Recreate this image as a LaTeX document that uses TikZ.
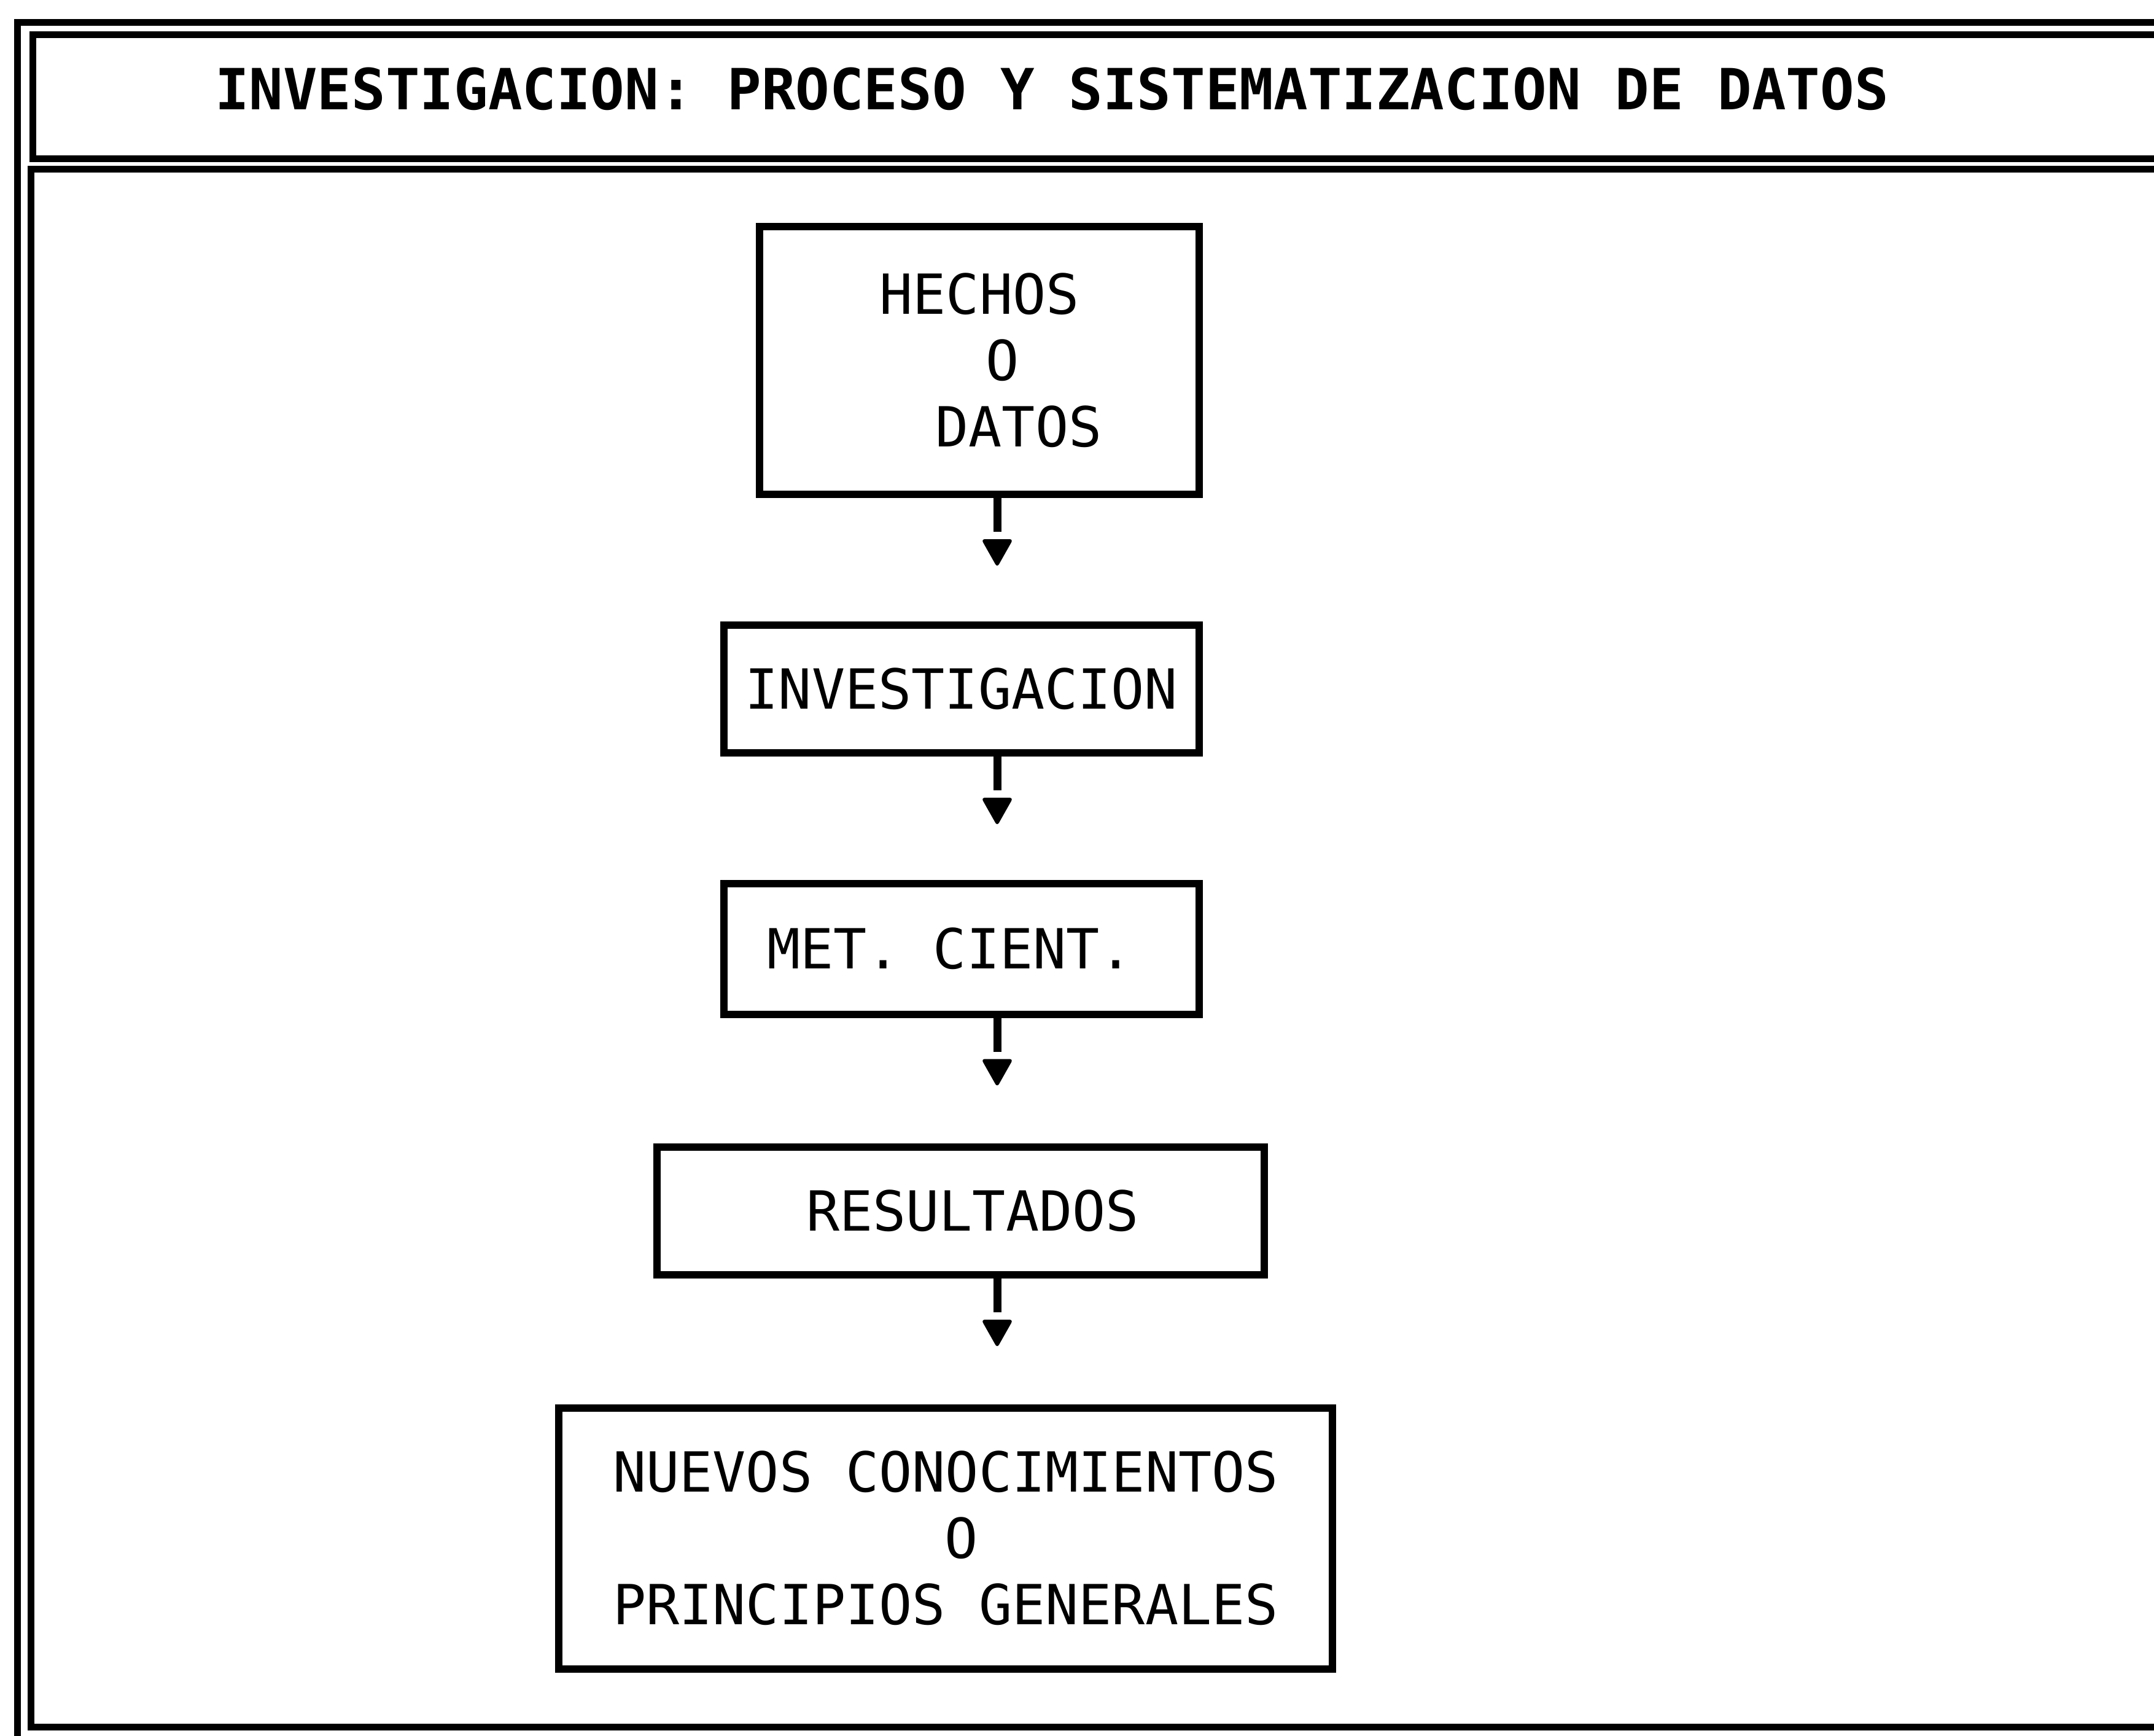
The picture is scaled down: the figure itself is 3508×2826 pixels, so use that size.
\documentclass[tikz,border=0pt]{standalone}
\usepackage{fontspec}
\setmonofont{DejaVu Sans Mono}
\usetikzlibrary{calc}
\begin{document}
\begin{tikzpicture}[x=0.25pt,y=-0.25pt,
  frameline/.style={line width=2.75pt},
  box/.style={draw, line width=3pt, inner sep=0pt, align=center,
    font=\ttfamily\fontsize{22.5pt}{27pt}\selectfont},
  stem/.style={line width=3.25pt},
  tiptri/.style={fill=black, rounded corners=1.5pt},
  titletext/.style={inner sep=0pt, font=\ttfamily\bfseries\fontsize{23.1pt}{27pt}\selectfont}]
\useasboundingbox (0,0) rectangle (3508,2826);
% frame
\draw[frameline] (3540,37) -- (28,37) -- (28,2860);
\draw[frameline] (3540,57) -- (53,57) -- (53,258) -- (3540,258);
\draw[frameline] (3540,275) -- (50,275) -- (50,2812) -- (3540,2812);
% title
\node[titletext] (title) at (1713,145) {INVESTIGACION: PROCESO Y SISTEMATIZACION DE DATOS};
% boxes
\node[box, minimum width=179pt, minimum height=109pt] (hechos) at (1595,587)
  {HECHOS\\\hspace*{19pt}O\\\hspace*{32pt}DATOS};
\node[box, minimum width=193.5pt, minimum height=52pt] (invest) at (1566,1122)
  {INVESTIGACION};
\node[box, minimum width=193.5pt, minimum height=53.25pt] (met) at (1566,1545)
  {MET. CIENT.\hspace*{9.5pt}};
\node[box, minimum width=247.25pt, minimum height=52pt] (res) at (1564,1972)
  {\hspace*{10pt}RESULTADOS};
\node[box, minimum width=315pt, minimum height=106.25pt] (nuevos) at (1540,2505)
  {NUEVOS CONOCIMIENTOS\\\hspace*{13pt}O\\PRINCIPIOS GENERALES};
% arrows
\coordinate (ax) at (1624,0);
\foreach \a in {hechos,invest,met,res}{
  \draw[stem] (\a.south -| ax) -- ++(0,55) coordinate (e);
  \fill[tiptri] ($(e)+(-26,12)$) -- ++(52,0) -- ++(-26,46) -- cycle;
}
\end{tikzpicture}
\end{document}
